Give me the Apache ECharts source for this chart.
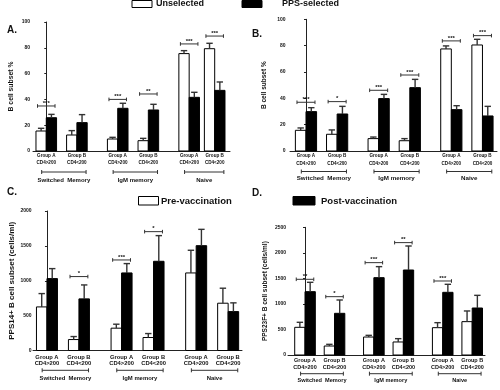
<!DOCTYPE html>
<html>
<head>
<meta charset="utf-8">
<script src="https://cdn.jsdelivr.net/npm/echarts@6/dist/echarts.min.js"></script>
<style>
  html, body { margin: 0; padding: 0; background: #fff; }
  #chart { width: 500px; height: 390px; }
</style>
</head>
<body>
<div id="chart"></div>
<script>
// labels under each bar pair
const groupNames = ["Group A", "Group B", "Group A", "Group B", "Group A", "Group B"];
const cd4Names = ["CD4>200", "CD4<200", "CD4>200", "CD4<200", "CD4>200", "CD4<200"];
const subsetNames = ["Switched  Memory", "IgM memory", "Naive"];
const subsetPairs = [[0, 1], [2, 3], [4, 5]];

// A. B cell subset % — unselected vs PPS-selected (upper whisker = error)
const aUnsel = [15.5, 12.4, 9.3, 8.0, 75.5, 79.3];
const aUnselErr = [2.1, 3.4, 1.3, 1.8, 2.3, 4.2];
const aSel = [25.8, 22.0, 33.1, 31.8, 41.6, 47.0];
const aSelErr = [2.6, 6.2, 3.9, 4.4, 3.9, 6.5];
const aStars = ["***", "", "***", "**", "***", "***"];
const aStarAt = [34.9, null, 40, 44.2, 83, 89.1];

// B.
const bUnsel = [15.7, 12.7, 9.4, 7.8, 77.5, 80.5];
const bUnselErr = [1.8, 3.3, 1.2, 1.6, 2.3, 4.3];
const bSel = [29.9, 28.1, 39.8, 48.1, 31.4, 26.6];
const bSelErr = [3.0, 5.8, 3.2, 6.3, 3.0, 7.3];
const bStars = ["***", "*", "***", "***", "***", "***"];
const bStarAt = [37, 37.5, 46.1, 57.7, 83.6, 87.6];

// C. PPS14+ B cells/ml — pre vs post vaccination
const cPre = [625, 157, 320, 186, 1112, 678];
const cPreErr = [191, 43, 57, 57, 325, 215];
const cPost = [1031, 740, 1112, 1279, 1503, 558];
const cPostErr = [143, 200, 134, 368, 234, 125];
const cStars = ["", "*", "***", "*", "", ""];
const cStarAt = [null, 1060, 1298, 1704, null, null];

// D. PPS23F+ B cells/ml
const dPre = [542, 176, 352, 255, 535, 653];
const dPreErr = [98, 33, 33, 65, 98, 209];
const dPost = [1240, 816, 1514, 1664, 1227, 920];
const dPostErr = [183, 261, 216, 470, 157, 248];
const dStars = ["**", "*", "***", "**", "***", ""];
const dStarAt = [1482, 1142, 1808, 2200, 1449, null];

const FONT = "'Liberation Sans', Arial, sans-serif";
const INK = "#111";
const LINE = "#333";
const SLOTS = [0, 3, 7, 10, 14, 17];

const panels = [
  {
    grid: { left: 33, top: 22, width: 197, height: 129 }, xMin: -1.3, xMax: 18,
    slots: [0, 3, 7, 10, 14, 16.5], yMax: 100, yStep: 20,
    yName: "B cell subset %", nameSize: 6.8, nameGap: 18, tickMargin: 3,
    barW: 10.3, groupFont: 4.6, subsetFont: 6, offs: [4.7, 11.7, 21, 29.7],
    white: aUnsel, whiteErr: aUnselErr, black: aSel, blackErr: aSelErr, stars: aStars, starAt: aStarAt,
  },
  {
    grid: { left: 290, top: 19.3, width: 207, height: 131.7 }, xMin: -1.54, xMax: 18.4,
    slots: SLOTS, yMax: 100, yStep: 20,
    yName: "B cell subset %", nameSize: 6.5, nameGap: 22, tickMargin: 4.5,
    barW: 10.6, groupFont: 4.6, subsetFont: 6.2, offs: [5, 13, 20.5, 27.3],
    white: bUnsel, whiteErr: bUnselErr, black: bSel, blackErr: bSelErr, stars: bStars, starAt: bStarAt,
  },
  {
    grid: { left: 33, top: 211, width: 209, height: 139.5 }, xMin: -1.31, xMax: 18.3,
    slots: SLOTS, yMax: 2000, yStep: 500,
    yName: "PPS14+ B cell subset (cells/ml)", nameSize: 8, nameGap: 17, tickMargin: 1.5,
    barW: 10.5, groupFont: 5.8, subsetFont: 5.9, offs: [6.5, 13.2, 19.8, 27.5],
    white: cPre, whiteErr: cPreErr, black: cPost, blackErr: cPostErr, stars: cStars, starAt: cStarAt,
  },
  {
    grid: { left: 288, top: 227.3, width: 197, height: 127.7 }, xMin: -1.73, xMax: 18.3,
    slots: SLOTS, yMax: 2500, yStep: 500,
    yName: "PPS23F+ B cell subset (cells/ml)", nameSize: 6.5, nameGap: 19, tickMargin: 2,
    barW: 10.3, groupFont: 5.5, subsetFont: 5.6, offs: [5.3, 12, 18.7, 25.3],
    white: dPre, whiteErr: dPreErr, black: dPost, blackErr: dPostErr, stars: dStars, starAt: dStarAt,
  },
];

function txt(x, y, text, size, align) {
  return {
    type: "text", x, y,
    style: {
      text, fill: INK, fontSize: size, fontWeight: "bold", fontFamily: FONT,
      align: align || "center", verticalAlign: "middle",
    },
  };
}

function renderPair(p) {
  return function (params, api) {
    const i = params.dataIndex;
    const x = api.value(0);
    const base = api.coord([x, 0]);
    const cx = base[0];
    const bw = p.barW;
    const kids = [];
    const bar = (x0, v, e, fill) => {
      const top = api.coord([x, v])[1];
      const et = api.coord([x, v + e])[1];
      const mx = x0 + bw / 2;
      kids.push({ type: "rect", shape: { x: x0, y: top, width: bw, height: base[1] - top },
        style: { fill, stroke: "#000", lineWidth: 1 } });
      kids.push({ type: "line", shape: { x1: mx, y1: top, x2: mx, y2: et },
        style: { stroke: LINE, lineWidth: 1.4 } });
      kids.push({ type: "line", shape: { x1: mx - 3.2, y1: et, x2: mx + 3.2, y2: et },
        style: { stroke: LINE, lineWidth: 1.4 } });
    };
    bar(cx - bw, p.white[i], p.whiteErr[i], "#fff");
    bar(cx, p.black[i], p.blackErr[i], "#000");

    if (p.stars[i]) {
      const sy = api.coord([x, p.starAt[i]])[1];
      const half = bw * 0.85;
      kids.push({ type: "line", shape: { x1: cx - half, y1: sy, x2: cx + half, y2: sy }, style: { stroke: LINE, lineWidth: 1 } });
      kids.push({ type: "line", shape: { x1: cx - half, y1: sy - 1.8, x2: cx - half, y2: sy + 1.8 }, style: { stroke: LINE, lineWidth: 1 } });
      kids.push({ type: "line", shape: { x1: cx + half, y1: sy - 1.8, x2: cx + half, y2: sy + 1.8 }, style: { stroke: LINE, lineWidth: 1 } });
      kids.push(txt(cx, sy - 3, p.stars[i], 6));
    }

    kids.push(txt(cx, base[1] + p.offs[0], groupNames[i], p.groupFont));
    kids.push(txt(cx, base[1] + p.offs[1], cd4Names[i], p.groupFont));
    return { type: "group", children: kids };
  };
}

function renderSubset(p) {
  return function (params, api) {
    const k = params.dataIndex;
    const pr = subsetPairs[k];
    const base = api.coord([p.slots[pr[0]], 0]);
    const x1 = api.coord([p.slots[pr[0]] - 0.45, 0])[0];
    const x2 = api.coord([p.slots[pr[1]] + 0.9, 0])[0];
    const y = base[1] + p.offs[2];
    return {
      type: "group",
      children: [
        { type: "line", shape: { x1, y1: y, x2, y2: y }, style: { stroke: LINE, lineWidth: 1 } },
        { type: "line", shape: { x1, y1: y - 2, x2: x1, y2: y + 2 }, style: { stroke: LINE, lineWidth: 1 } },
        { type: "line", shape: { x1: x2, y1: y - 2, x2, y2: y + 2 }, style: { stroke: LINE, lineWidth: 1 } },
        txt((x1 + x2) / 2, base[1] + p.offs[3], subsetNames[k], p.subsetFont),
      ],
    };
  };
}

const option = { animation: false, grid: [], xAxis: [], yAxis: [], series: [], graphic: [] };

panels.forEach((p, k) => {
  option.grid.push(Object.assign({ containLabel: false }, p.grid));
  option.xAxis.push({
    type: "value", gridIndex: k, min: p.xMin, max: p.xMax,
    axisLine: { show: true, onZero: false, lineStyle: { color: "#222", width: 1 } },
    axisTick: { show: false }, axisLabel: { show: false }, splitLine: { show: false },
  });
  option.yAxis.push({
    type: "value", gridIndex: k, min: 0, max: p.yMax, interval: p.yStep,
    name: p.yName, nameLocation: "middle", nameGap: p.nameGap,
    nameTextStyle: { fontSize: p.nameSize, fontWeight: "bold", fontFamily: FONT, color: INK },
    axisLine: { show: true, lineStyle: { color: "#222", width: 1 } },
    axisTick: { show: true, length: 2, lineStyle: { color: "#222" } },
    axisLabel: {
      fontSize: 5, fontWeight: "bold", fontFamily: FONT, color: INK, margin: p.tickMargin,
      formatter: (v) => String(v),
    },
    splitLine: { show: false },
  });
  option.series.push({
    type: "custom", xAxisIndex: k, yAxisIndex: k, clip: false, silent: true,
    data: p.slots.map((s) => [s, 0]), renderItem: renderPair(p),
  });
  option.series.push({
    type: "custom", xAxisIndex: k, yAxisIndex: k, clip: false, silent: true,
    data: subsetPairs.map((pr) => [p.slots[pr[0]], 0]), renderItem: renderSubset(p),
  });
});

// panel letters and the two legends
option.graphic = [
  txt(7, 30.5, "A.", 10, "left"),
  txt(252, 34, "B.", 10, "left"),
  txt(7, 192.5, "C.", 10, "left"),
  txt(252, 193.5, "D.", 10, "left"),
  { type: "rect", shape: { x: 132, y: 0.5, width: 20, height: 7 }, style: { fill: "#fff", stroke: "#000", lineWidth: 1 } },
  txt(156, 4, "Unselected", 9, "left"),
  { type: "rect", shape: { x: 242, y: 0.5, width: 20, height: 7 }, style: { fill: "#000", stroke: "#000", lineWidth: 1 } },
  txt(282, 4, "PPS-selected", 9, "left"),
  { type: "rect", shape: { x: 138.5, y: 196.5, width: 20, height: 8.5 }, style: { fill: "#fff", stroke: "#000", lineWidth: 1 } },
  txt(161, 201, "Pre-vaccination", 9.5, "left"),
  { type: "rect", shape: { x: 293, y: 196.5, width: 22, height: 8.5 }, style: { fill: "#000", stroke: "#000", lineWidth: 1 } },
  txt(321, 201, "Post-vaccination", 9.5, "left"),
];

const chart = echarts.init(document.getElementById("chart"), null, { renderer: "canvas" });
chart.setOption(option);
</script>
</body>
</html>
